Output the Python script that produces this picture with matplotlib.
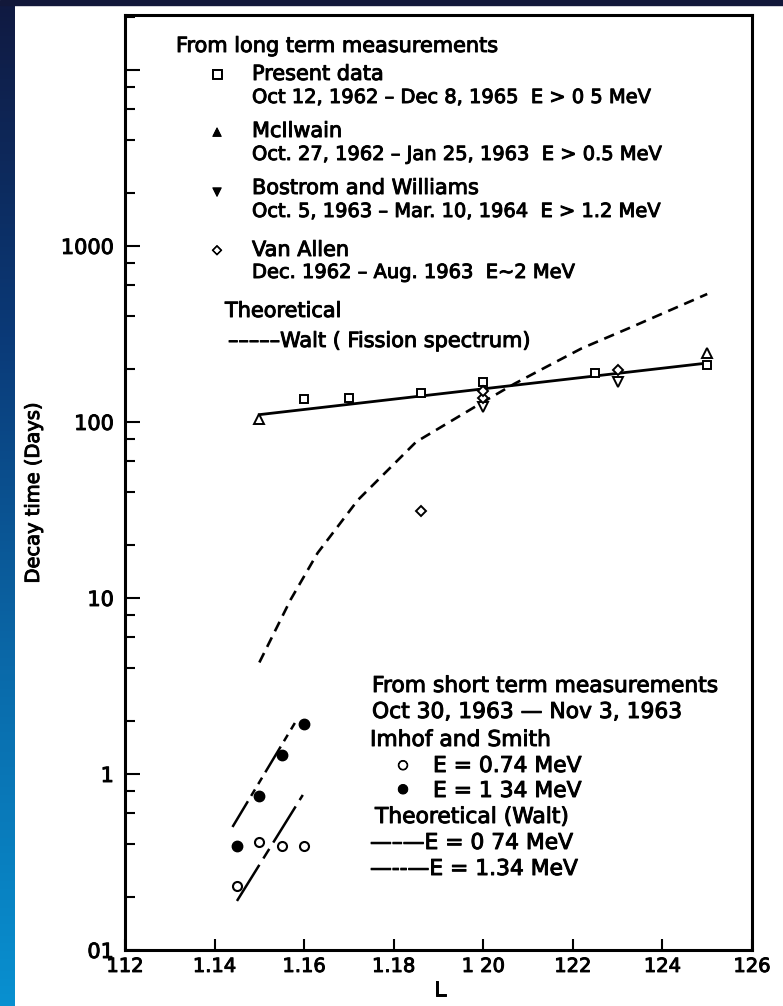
import matplotlib
matplotlib.use('Agg')
import matplotlib.pyplot as plt
import matplotlib.patheffects as pe
import numpy as np
from matplotlib.colors import LinearSegmentedColormap
from matplotlib.patches import Rectangle
from matplotlib.ticker import LogLocator, NullFormatter

plt.rcParams['font.family'] = ['DejaVu Sans']

# ---- long term measurements ----
present_L = [1.16, 1.17, 1.186, 1.20, 1.225, 1.25]
present_T = [135, 137, 146, 169, 190, 211]
mcilwain_L = [1.15, 1.25]
mcilwain_T = [104, 247]
bostrom_L = [1.20, 1.23]
bostrom_T = [122, 169]
vanallen_L = [1.186, 1.20, 1.20, 1.23]
vanallen_T = [31, 137, 150, 197]
fit_L = [1.15, 1.25]
fit_T = [110, 216]
walt_L = [1.150, 1.157, 1.163, 1.172, 1.185, 1.200, 1.207, 1.214, 1.222, 1.233, 1.250]
walt_T = [4.3, 9.8, 18, 36, 77, 130, 165, 205, 262, 345, 533]

# ---- short term measurements (Imhof and Smith) ----
imhof_L = [1.145, 1.15, 1.155, 1.16]
imhof_074 = [0.23, 0.41, 0.39, 0.39]
imhof_134 = [0.39, 0.75, 1.28, 1.92]
walt074_L = [1.145, 1.1597]
walt074_T = [0.19, 0.76]
walt134_L = [1.144, 1.1586]
walt134_T = [0.50, 2.08]

xticks = [1.12, 1.14, 1.16, 1.18, 1.20, 1.22, 1.24, 1.26]
xlabels = ['112', '1.14', '1.16', '1.18', '1 20', '122', '124', '126']
yticks = [0.1, 1, 10, 100, 1000, 10000]
ylabels = ['01', '1', '10', '100', '1000', '']

W, H = 783, 1006
fig = plt.figure(figsize=(W / 100, H / 100), dpi=100)
fig.patch.set_facecolor('white')

# slide background: dark band on top, blue gradient strip on the left
fig.patches.append(Rectangle((0, 1 - 5 / H), 1, 5 / H, transform=fig.transFigure,
                             color='#12183a', zorder=0))
strip = fig.add_axes([0, 0, 15 / W, 1 - 5 / H])
grad = LinearSegmentedColormap.from_list('slide', ['#101a42', '#0a3a78', '#0a6aaa', '#0890d0'])
strip.imshow(np.linspace(0, 1, 256).reshape(-1, 1), aspect='auto', cmap=grad)
strip.axis('off')

ax = fig.add_axes([125 / W, (H - 950) / H, (752 - 125) / W, (950 - 15) / H])
ax.set_yscale('log')
ax.set_xlim(1.12, 1.26)
ax.set_ylim(0.1, 2.05e4)

k = 'black'
ax.plot(fit_L, fit_T, color=k, lw=2)
ax.plot(walt_L, walt_T, color=k, lw=1.9, linestyle=(0, (4, 2.6)))
ax.plot(present_L, present_T, 's', ms=6, mfc='white', mec=k, mew=1.4)
ax.plot(mcilwain_L, mcilwain_T, '^', ms=6.5, mfc='white', mec=k, mew=1.4)
ax.plot(bostrom_L, bostrom_T, 'v', ms=6.5, mfc='white', mec=k, mew=1.4)
ax.plot(vanallen_L, vanallen_T, 'D', ms=5, mfc='white', mec=k, mew=1.4)

ax.plot(walt074_L, walt074_T, color=k, lw=1.8, linestyle=(0, (17, 3, 4.5, 3)))
ax.plot(walt134_L, walt134_T, color=k, lw=1.8, linestyle=(0, (12, 2.5, 3, 2.5, 3, 2.5)))
ax.plot(imhof_L, imhof_074, 'o', ms=6.5, mfc='white', mec=k, mew=1.5)
ax.plot(imhof_L, imhof_134, 'o', ms=7.5, mfc=k, mec=k)

ax.set_xticks(xticks)
ax.set_xticklabels(xlabels, fontsize=14)
ax.set_yticks(yticks)
ax.set_yticklabels(ylabels, fontsize=15)
ax.yaxis.set_minor_locator(LogLocator(base=10, subs=(2, 4, 6, 8)))
ax.yaxis.set_minor_formatter(NullFormatter())
ax.tick_params(axis='y', which='major', direction='in', length=11, width=1.5, pad=8)
ax.tick_params(axis='y', which='minor', direction='in', length=7, width=1.5)
ax.tick_params(axis='x', which='major', direction='in', length=8, width=1.5, pad=5)
for sp in ax.spines.values():
    sp.set_linewidth(2.2)

ax.set_ylabel('Decay time (Days)', fontsize=14)
ax.yaxis.set_label_coords((43 - 125) / 627, (950 - 493) / 935)
ax.set_xlabel('L', fontsize=15)
ax.xaxis.set_label_coords((440 - 125) / 627, (950 - 980) / 935)

# scanned print looks heavier than plain DejaVu: give all text a thin outline
ink = [pe.withStroke(linewidth=0.7, foreground='black')]
for t in ax.get_xticklabels() + ax.get_yticklabels() + [ax.xaxis.label, ax.yaxis.label]:
    t.set_path_effects(ink)


def put(x, y, s, size=15, **kw):
    fig.text(x / W, 1 - y / H, s, fontsize=size, va='baseline', ha='left',
             path_effects=ink, **kw)


def glyph(x, y, s, size=9):
    fig.text(x / W, 1 - y / H, s, fontsize=size, va='center', ha='center',
             path_effects=ink)


# upper legend block
put(176, 52, 'From long term measurements')
glyph(217, 74, '□')
put(252, 80, 'Present data')
put(252, 103, 'Oct 12, 1962 – Dec 8, 1965  E > 0 5 MeV', size=14)
glyph(217, 132, '▲', size=8)
put(252, 137, 'McIlwain')
put(252, 160, 'Oct. 27, 1962 – Jan 25, 1963  E > 0.5 MeV', size=14)
glyph(217, 192, '▼', size=8)
put(252, 194, 'Bostrom and Williams')
put(252, 217, 'Oct. 5, 1963 – Mar. 10, 1964  E > 1.2 MeV', size=14)
glyph(217, 250, '◇', size=9)
put(252, 256, 'Van Allen')
put(252, 278, 'Dec. 1962 – Aug. 1963  E~2 MeV', size=14)
put(225, 317, 'Theoretical')
put(228, 347, '–––––Walt ( Fission spectrum)')

# lower legend block
put(372, 692, 'From short term measurements', size=15.7)
put(372, 718, 'Oct 30, 1963 — Nov 3, 1963', size=15.7)
put(370, 746, 'Imhof and Smith', size=15.7)
glyph(403, 765, '○', size=9)
put(433, 772, 'E = 0.74 MeV', size=15.7)
glyph(403, 789, '●', size=9)
put(433, 797, 'E = 1 34 MeV', size=15.7)
put(375, 823, 'Theoretical (Walt)', size=15.7)
put(370, 849, '—–—E = 0 74 MeV', size=15.7)
put(370, 875, '—--—E = 1.34 MeV', size=15.7)

fig.savefig('out.png', dpi=100, facecolor=fig.get_facecolor())
